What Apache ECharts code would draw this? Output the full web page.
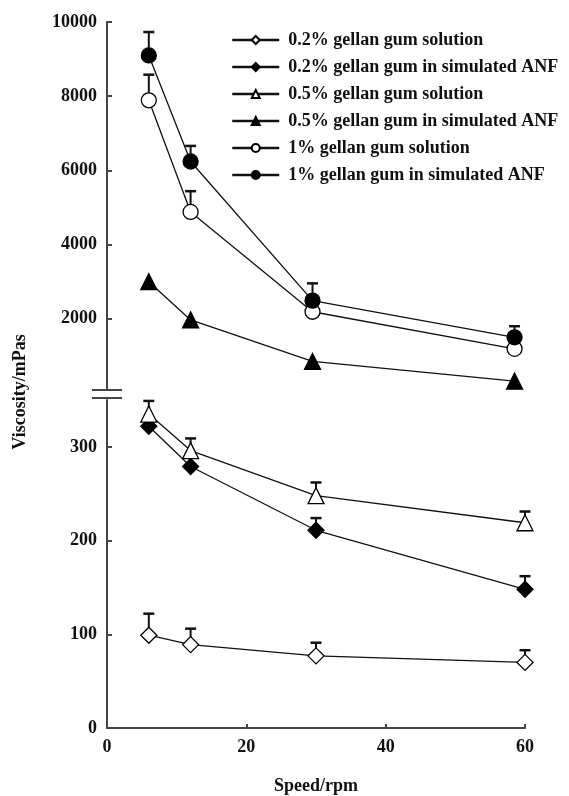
<!DOCTYPE html>
<html><head><meta charset="utf-8">
<script src="https://cdn.jsdelivr.net/npm/echarts@6/dist/echarts.min.js"></script>
<style>html,body{margin:0;padding:0;background:#fff}#c{width:569px;height:796px}</style>
</head><body><div id="c"></div>
<script>
// ---- data ----
const xTop = [6, 12, 29.5, 58.5];
const xBottom = [6, 12, 30, 60];
const seriesNames = [
  '0.2% gellan gum solution',
  '0.2% gellan gum in simulated ANF',
  '0.5% gellan gum solution',
  '0.5% gellan gum in simulated ANF',
  '1% gellan gum solution',
  '1% gellan gum in simulated ANF'
];
// bottom panel (mPas)
const sol02 = [99, 89, 77, 70];
const sol02Err = [23, 17, 14, 13];
const anf02 = [322, 279, 211, 148];
const anf02Err = [null, null, 13, 14];
const sol05 = [335, 296, 248, 219];
const sol05Err = [14, 13, 14, 12];
// top panel (mPas)
const anf05 = [3000, 1970, 850, 320];
const anf05Err = [null, null, null, null];
const sol1 = [7890, 4880, 2190, 1190];
const sol1Err = [690, 560, null, null];
const anf1 = [9100, 6240, 2490, 1500];
const anf1Err = [630, 420, 465, 300];
const topTicks = [2000, 4000, 6000, 8000, 10000];
const bottomTicks = [0, 100, 200, 300];
const xTicks = [0, 20, 40, 60];

const FONT = 'Liberation Serif';
const txt = {fontFamily: FONT, fontWeight: 'bold', fontSize: 18, color: '#111'};
const plain = v => String(v);

function pairs(xs, ys) { return xs.map((x, i) => [x, ys[i]]); }

function lineSeries(name, xs, ys, symbol, filled, gi) {
  return {
    name, type: 'line', xAxisIndex: gi, yAxisIndex: gi,
    data: pairs(xs, ys), symbol, symbolSize: symbol === 'circle' ? 15 : 16,
    showAllSymbol: true, z: 5,
    lineStyle: {color: '#111', width: 1.3},
    itemStyle: {color: filled ? '#000' : '#fff', borderColor: '#000', borderWidth: 1.3, opacity: 1},
    emphasis: {disabled: true}
  };
}
function errSeries(xs, ys, es, gi) {
  const d = [];
  xs.forEach((x, i) => { if (es[i] != null) d.push([x, ys[i], es[i]]); });
  return {
    type: 'custom', xAxisIndex: gi, yAxisIndex: gi, z: 3, silent: true,
    data: d,
    renderItem: function (params, api) {
      const p0 = api.coord([api.value(0), api.value(1)]);
      const p1 = api.coord([api.value(0), api.value(1) + api.value(2)]);
      const st = {stroke: '#111', lineWidth: 2};
      return {type: 'group', children: [
        {type: 'line', shape: {x1: p0[0], y1: p0[1], x2: p1[0], y2: p1[1]}, style: st},
        {type: 'line', shape: {x1: p1[0] - 5.5, y1: p1[1], x2: p1[0] + 5.5, y2: p1[1]}, style: {stroke: '#111', lineWidth: 2.5}}
      ]};
    }
  };
}

const chart = echarts.init(document.getElementById('c'), null, {renderer: 'canvas'});
const axisLine = {show: true, lineStyle: {color: '#444', width: 2}};
chart.setOption({
  animation: false,
  backgroundColor: '#fff',
  grid: [
    {left: 107, right: 44, top: 22, height: 371},
    {left: 107, right: 44, top: 400, height: 328}
  ],
  xAxis: [
    {gridIndex: 0, type: 'value', min: 0, max: 60, show: false},
    {gridIndex: 1, type: 'value', min: 0, max: 60, interval: 20,
     axisLine, splitLine: {show: false},
     axisTick: {inside: true, length: 4, lineStyle: {color: '#444', width: 2}},
     axisLabel: Object.assign({margin: 10, formatter: plain}, txt),
     name: 'Speed/rpm', nameLocation: 'middle', nameGap: 49, nameTextStyle: txt}
  ],
  yAxis: [
    {gridIndex: 0, type: 'value', min: 0, max: 10000, interval: 2000,
     axisLine, splitLine: {show: false},
     axisTick: {inside: true, length: 5, customValues: topTicks, lineStyle: {color: '#444', width: 2}},
     axisLabel: Object.assign({margin: 10, customValues: topTicks, formatter: plain}, txt)},
    {gridIndex: 1, type: 'value', min: 0, max: 350,
     axisLine, splitLine: {show: false},
     axisTick: {inside: true, length: 5, customValues: bottomTicks.slice(1), lineStyle: {color: '#444', width: 2}},
     axisLabel: Object.assign({margin: 10, customValues: bottomTicks, formatter: plain}, txt)}
  ],
  legend: {
    orient: 'vertical', left: 226, top: 26, itemWidth: 47, itemHeight: 10, itemGap: 9,
    data: seriesNames, selectedMode: false,
    lineStyle: {width: 2.5},
    textStyle: Object.assign({padding: [0, 0, 0, 4], lineHeight: 18}, txt)
  },
  series: [
    errSeries(xBottom, sol02, sol02Err, 1),
    errSeries(xBottom, anf02, anf02Err, 1),
    errSeries(xBottom, sol05, sol05Err, 1),
    errSeries(xTop, anf05, anf05Err, 0),
    errSeries(xTop, sol1, sol1Err, 0),
    errSeries(xTop, anf1, anf1Err, 0),
    lineSeries(seriesNames[0], xBottom, sol02, 'diamond', false, 1),
    lineSeries(seriesNames[1], xBottom, anf02, 'diamond', true, 1),
    lineSeries(seriesNames[2], xBottom, sol05, 'triangle', false, 1),
    lineSeries(seriesNames[3], xTop, anf05, 'triangle', true, 0),
    lineSeries(seriesNames[4], xTop, sol1, 'circle', false, 0),
    lineSeries(seriesNames[5], xTop, anf1, 'circle', true, 0)
  ],
  graphic: [
    {type: 'rect', shape: {x: 100, y: 391, width: 14, height: 6}, style: {fill: '#fff'}, z: 50},
    {type: 'line', shape: {x1: 92, y1: 390, x2: 122, y2: 390}, style: {stroke: '#444', lineWidth: 2}, z: 51},
    {type: 'line', shape: {x1: 92, y1: 398, x2: 122, y2: 398}, style: {stroke: '#444', lineWidth: 2}, z: 51},
    {type: 'text', x: 20, y: 392, rotation: Math.PI / 2, z: 51,
     style: {text: 'Viscosity/mPas', font: 'bold 18px "Liberation Serif"', fill: '#111', align: 'center', verticalAlign: 'middle'}}
  ]
});
</script>
</body></html>
